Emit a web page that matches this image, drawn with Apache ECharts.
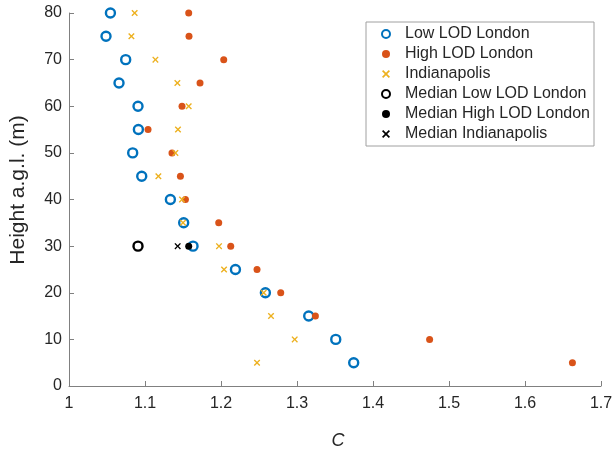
<!DOCTYPE html>
<html><head><meta charset="utf-8">
<script src="https://cdn.jsdelivr.net/npm/echarts@6/dist/echarts.min.js"></script>
<style>html,body{margin:0;padding:0;background:#fff}#c{width:613px;height:451px}</style>
</head><body><div id="c"></div>
<script>
const heights = [80, 75, 70, 65, 60, 55, 50, 45, 40, 35, 30, 25, 20, 15, 10, 5];
const lowLOD = [1.0545, 1.0487, 1.0746, 1.0658, 1.0908, 1.0913, 1.0838, 1.0957, 1.1334, 1.1509, 1.1632, 1.219, 1.2584, 1.3154, 1.351, 1.3746];
const highLOD = [1.1575, 1.1579, 1.2036, 1.1724, 1.1487, 1.104, 1.1355, 1.1466, 1.1532, 1.197, 1.2128, 1.2474, 1.2786, 1.3242, 1.4745, 1.6624];
const indy = [1.0864, 1.0821, 1.1137, 1.1426, 1.1575, 1.1434, 1.14, 1.1176, 1.1487, 1.15, 1.1974, 1.204, 1.2562, 1.2658, 1.297, 1.2474];
const medianHeight = 30;
const medianLow = 1.0908;
const medianHigh = 1.1575;
const medianIndy = 1.143;
const xTicks = [1, 1.1, 1.2, 1.3, 1.4, 1.5, 1.6, 1.7];
const yTicks = [0, 10, 20, 30, 40, 50, 60, 70, 80];
const names = ['Low LOD London', 'High LOD London', 'Indianapolis', 'Median Low LOD London', 'Median High LOD London', 'Median Indianapolis'];

const XPATH = 'path://M0,1.5 L1.5,0 L5,3.5 L8.5,0 L10,1.5 L6.5,5 L10,8.5 L8.5,10 L5,6.5 L1.5,10 L0,8.5 L3.5,5 Z';
const pair = (xs) => xs.map((x, i) => [x, heights[i]]);
const font = 'Liberation Sans, Arial, Helvetica, sans-serif';

const chart = echarts.init(document.getElementById('c'), null, {renderer: 'canvas'});
chart.setOption({
  animation: false,
  backgroundColor: '#fff',
  grid: {left: 69, right: 12, top: 13, bottom: 65, containLabel: false, outerBoundsMode: 'none'},
  legend: {
    orient: 'vertical', left: 366, top: 22,
    padding: [2, 4, 2, 15], itemGap: 0,
    itemWidth: 28, itemHeight: 8,
    borderColor: '#a0a0a0', borderWidth: 1, backgroundColor: '#fff',
    textStyle: {fontFamily: font, fontSize: 16, color: '#262626', lineHeight: 20},
    data: names
  },
  xAxis: {
    type: 'value', min: 1, max: 1.7, interval: 0.1,
    name: 'C', nameLocation: 'middle', nameGap: 46,
    nameTextStyle: {fontFamily: font, fontSize: 18, fontStyle: 'italic', color: '#262626', padding: [0, 0, 0, 6]},
    axisLine: {lineStyle: {color: '#808080', width: 1}},
    axisTick: {inside: true, length: 5, lineStyle: {color: '#808080'}},
    splitLine: {show: false},
    axisLabel: {fontFamily: font, fontSize: 16, color: '#262626', margin: 10,
      formatter: v => { const t = xTicks.find(k => Math.abs(k - v) < 1e-6); return t === undefined ? '' : String(t); }}
  },
  yAxis: {
    type: 'value', min: 0, max: 80, interval: 10,
    name: 'Height a.g.l. (m)', nameLocation: 'middle', nameGap: 40,
    nameTextStyle: {fontFamily: font, fontSize: 21, color: '#262626', padding: [0, 0, 0, 19]},
    axisLine: {show: true, lineStyle: {color: '#808080', width: 1}},
    axisTick: {show: true, inside: true, length: 5, lineStyle: {color: '#808080'}},
    splitLine: {show: false},
    axisLabel: {fontFamily: font, fontSize: 16, color: '#262626', margin: 7,
      formatter: v => { const t = yTicks.find(k => Math.abs(k - v) < 1e-6); return t === undefined ? '' : String(t); }}
  },
  series: [
    {name: names[0], type: 'scatter', data: pair(lowLOD), symbol: 'circle', symbolSize: 9,
      itemStyle: {color: '#fff', borderColor: '#0072BD', borderWidth: 2.4, opacity: 1}, z: 3},
    {name: names[1], type: 'scatter', data: pair(highLOD), symbol: 'circle', symbolSize: 7,
      itemStyle: {color: '#D95319', opacity: 1}, z: 4},
    {name: names[2], type: 'scatter', data: pair(indy), symbol: XPATH, symbolSize: 6.5,
      itemStyle: {color: '#EDB120', opacity: 1}, z: 5},
    {name: names[3], type: 'scatter', data: [[medianLow, medianHeight]], symbol: 'circle', symbolSize: 9,
      itemStyle: {color: '#fff', borderColor: '#000', borderWidth: 2.4, opacity: 1}, z: 6},
    {name: names[4], type: 'scatter', data: [[medianHigh, medianHeight]], symbol: 'circle', symbolSize: 7,
      itemStyle: {color: '#000', opacity: 1}, z: 6},
    {name: names[5], type: 'scatter', data: [[medianIndy, medianHeight]], symbol: XPATH, symbolSize: 6.5,
      itemStyle: {color: '#000', opacity: 1}, z: 6}
  ]
});
</script></body></html>
